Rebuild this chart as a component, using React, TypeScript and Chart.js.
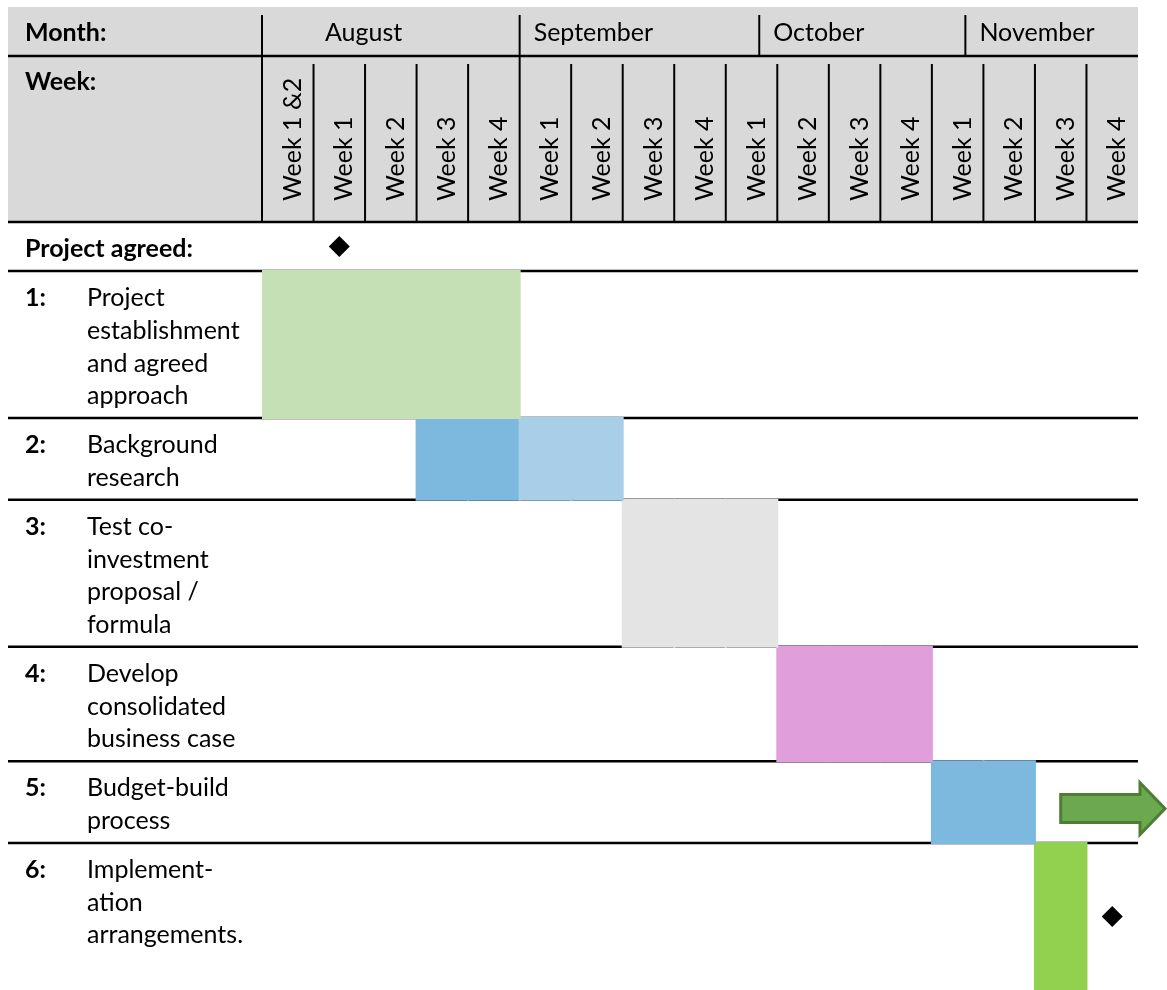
import React, { useEffect, useRef } from 'react';
import { Chart, registerables } from 'chart.js';

Chart.register(...registerables);

// ---------------- data ----------------
const MONTHS = ['August', 'September', 'October', 'November'];
// month start, in week-column units (the source table's month cells are not aligned to the week cells)
const MONTH_START_WEEK = [0, 5, 9.65, 13.65];
const WEEK_LABELS = [
  'Week 1 &2', 'Week 1', 'Week 2', 'Week 3', 'Week 4',
  'Week 1', 'Week 2', 'Week 3', 'Week 4',
  'Week 1', 'Week 2', 'Week 3', 'Week 4',
  'Week 1', 'Week 2', 'Week 3', 'Week 4',
];
const MILESTONE_ROW_LABEL = 'Project agreed:';
const TASK_NUMBERS = ['1:', '2:', '3:', '4:', '5:', '6:'];
const TASK_NAMES = [
  ['Project', 'establishment', 'and agreed', 'approach'],
  ['Background', 'research'],
  ['Test co-', 'investment', 'proposal /', 'formula'],
  ['Develop', 'consolidated', 'business case'],
  ['Budget-build', 'process'],
  ['Implement-', 'ation', 'arrangements.'],
];
const TASK_START_WEEK = [0, 3, 7, 10, 13, 15];
const TASK_END_WEEK = [5, 7, 10, 13, 15, 16]; // exclusive
const MILESTONE_ROWS = [0, 6]; // 0 = "Project agreed" row, n = task n
const MILESTONE_WEEKS = [1, 16];
const CONTINUES_ROW = 5; // task that continues past the chart (arrow)
const CONTINUES_FROM_WEEK = 15;

// ---------------- style ----------------
const FONT = 'Lato, "Open Sans", sans-serif';
const FONT_SIZE = 25;
const HEADER_BG = '#D9D9D9';
const TASK_COLORS = ['#C5E0B5', '#7DB9DF', '#E4E4E4', '#E09FDB', '#7DB9DF', '#92D050'];
const TASK2_LATE_COLOR = '#A9CFE8';
const ARROW_FILL = '#6BA850';
const ARROW_STROKE = '#4E7D33';
const MONTH_TEXT_INDENT = [63, 14, 14, 14];

// ---------------- layout (rows in text-line units) ----------------
const ROW_PAD = 0.5;
const rowLines = [1, ...TASK_NAMES.map((n) => n.length)];
const rowHeights = rowLines.map((l, i) => l + ROW_PAD + (i === rowLines.length - 1 ? 1 : 0));
const rowTops: number[] = [];
rowHeights.reduce((acc, h) => { rowTops.push(acc); return acc + h; }, 0);
const rowBottoms = rowTops.map((t, i) => t + rowHeights[i]);
const Y_MAX = rowBottoms[rowBottoms.length - 1];
const rowCenter = (r: number) => (rowTops[r] + rowBottoms[r]) / 2;

const barColor = (t: number, c: number) =>
  t === 1 && c >= MONTH_START_WEEK[1] ? TASK2_LATE_COLOR : TASK_COLORS[t];

const tablePlugin = {
  id: 'ganttTable',
  beforeDraw(chart: any) {
    const { ctx, chartArea } = chart;
    const x = chart.scales.x;
    const left = 8;
    const right = chartArea.right;
    const top = 7;
    const monthBottom = 56;
    const edge = (c: number) => x.getPixelForValue(c - 0.5);
    ctx.save();
    ctx.fillStyle = HEADER_BG;
    ctx.fillRect(left, top, right - left, chartArea.top - top);
    ctx.strokeStyle = '#000';
    ctx.lineWidth = 2;
    // month dividers
    MONTH_START_WEEK.forEach((m) => {
      const px = edge(m);
      ctx.beginPath(); ctx.moveTo(px, 15); ctx.lineTo(px, monthBottom); ctx.stroke();
    });
    // week dividers
    WEEK_LABELS.forEach((_, c) => {
      const px = edge(c);
      const full = MONTH_START_WEEK.includes(c);
      ctx.beginPath(); ctx.moveTo(px, full ? monthBottom : 64); ctx.lineTo(px, chartArea.top); ctx.stroke();
    });
    ctx.lineWidth = 2.5;
    [monthBottom, chartArea.top].forEach((yy) => {
      ctx.beginPath(); ctx.moveTo(left, yy); ctx.lineTo(right, yy); ctx.stroke();
    });
    ctx.fillStyle = '#000';
    ctx.textBaseline = 'middle';
    ctx.textAlign = 'left';
    ctx.font = `${FONT_SIZE}px ${FONT}`;
    MONTHS.forEach((m, i) => {
      ctx.fillText(m, edge(MONTH_START_WEEK[i]) + MONTH_TEXT_INDENT[i], 33);
    });
    ctx.font = `bold ${FONT_SIZE}px ${FONT}`;
    ctx.fillText('Month:', 25, 33);
    ctx.fillText('Week:', 25, 82);
    ctx.restore();
  },
  beforeDatasetsDraw(chart: any) {
    const { ctx, chartArea } = chart;
    const y = chart.scales.y;
    ctx.save();
    ctx.strokeStyle = '#000';
    ctx.lineWidth = 2.5;
    rowTops.slice(1).forEach((t) => {
      const py = y.getPixelForValue(t);
      ctx.beginPath(); ctx.moveTo(8, py); ctx.lineTo(chartArea.right, py); ctx.stroke();
    });
    ctx.restore();
  },
  afterDraw(chart: any) {
    const { ctx } = chart;
    const x = chart.scales.x;
    const y = chart.scales.y;
    ctx.save();
    ctx.fillStyle = '#000';
    ctx.textBaseline = 'middle';
    ctx.textAlign = 'left';
    const firstLine = 0.83;
    ctx.font = `bold ${FONT_SIZE}px ${FONT}`;
    ctx.fillText(MILESTONE_ROW_LABEL, 25, y.getPixelForValue(rowTops[0] + firstLine));
    TASK_NAMES.forEach((lines, t) => {
      const r = t + 1;
      ctx.font = `bold ${FONT_SIZE}px ${FONT}`;
      ctx.fillText(TASK_NUMBERS[t], 25, y.getPixelForValue(rowTops[r] + firstLine));
      ctx.font = `${FONT_SIZE}px ${FONT}`;
      lines.forEach((ln, i) => {
        ctx.fillText(ln, 87, y.getPixelForValue(rowTops[r] + firstLine + i));
      });
    });
    // continuation arrow
    const yc = y.getPixelForValue(rowCenter(CONTINUES_ROW) + 0.2);
    const x0 = x.getPixelForValue(CONTINUES_FROM_WEEK);
    const tip = chart.width - 2;
    const hx = tip - 25;
    ctx.beginPath();
    ctx.moveTo(x0, yc - 14);
    ctx.lineTo(hx, yc - 14);
    ctx.lineTo(hx, yc - 26);
    ctx.lineTo(tip, yc);
    ctx.lineTo(hx, yc + 26);
    ctx.lineTo(hx, yc + 14);
    ctx.lineTo(x0, yc + 14);
    ctx.closePath();
    ctx.fillStyle = ARROW_FILL;
    ctx.fill();
    ctx.lineWidth = 3;
    ctx.strokeStyle = ARROW_STROKE;
    ctx.lineJoin = 'miter';
    ctx.stroke();
    ctx.restore();
  },
};

export default function App() {
  const ref = useRef<HTMLCanvasElement | null>(null);
  useEffect(() => {
    if (!ref.current) return;
    const bars = TASK_NAMES.map((_, t) => ({
      type: 'bar' as const,
      label: TASK_NUMBERS[t],
      data: WEEK_LABELS.map((__, c) =>
        c >= TASK_START_WEEK[t] && c < TASK_END_WEEK[t] ? [rowTops[t + 1], rowBottoms[t + 1]] : null
      ),
      backgroundColor: WEEK_LABELS.map((__, c) => barColor(t, c)),
      borderWidth: 0,
      barPercentage: 1,
      categoryPercentage: 1,
      grouped: false,
      inflateAmount: 1,
    }));
    const milestones = {
      type: 'line' as const,
      label: 'Milestones',
      data: WEEK_LABELS.map((__, c) => {
        const i = MILESTONE_WEEKS.indexOf(c);
        return i >= 0 ? rowCenter(MILESTONE_ROWS[i]) : null;
      }),
      showLine: false,
      pointStyle: 'rectRot',
      pointRadius: 10.5,
      pointBorderWidth: 0,
      pointBackgroundColor: '#000',
      borderColor: '#000',
      backgroundColor: '#000',
      clip: false,
    };
    const chart = new Chart(ref.current, {
      type: 'bar',
      data: { labels: WEEK_LABELS, datasets: [milestones as any, ...bars] },
      options: {
        animation: false,
        responsive: false,
        events: [],
        layout: { autoPadding: false, padding: { left: 262, right: 29, top: 56, bottom: 0 } },
        plugins: { legend: { display: false }, tooltip: { enabled: false } },
        scales: {
          x: {
            type: 'category',
            position: 'top',
            offset: true,
            grid: { display: false, drawTicks: false },
            border: { display: false },
            ticks: {
              autoSkip: false,
              minRotation: 90,
              maxRotation: 90,
              padding: 21,
              labelOffset: 35,
              color: '#000',
              font: { family: FONT, size: FONT_SIZE },
            },
            afterFit: (s: any) => {
              s.height = 166;
              s.paddingLeft = 0;
              s.paddingRight = 0;
            },
          },
          y: {
            type: 'linear',
            reverse: true,
            min: 0,
            max: Y_MAX,
            display: false,
          },
        },
      },
      plugins: [tablePlugin],
    });
    return () => chart.destroy();
  }, []);
  return (
    <div style={{ position: 'absolute', left: 0, top: 0, width: 1167, height: 990 }}>
      <canvas ref={ref} width={1167} height={990} style={{ display: 'block' }} />
    </div>
  );
}
